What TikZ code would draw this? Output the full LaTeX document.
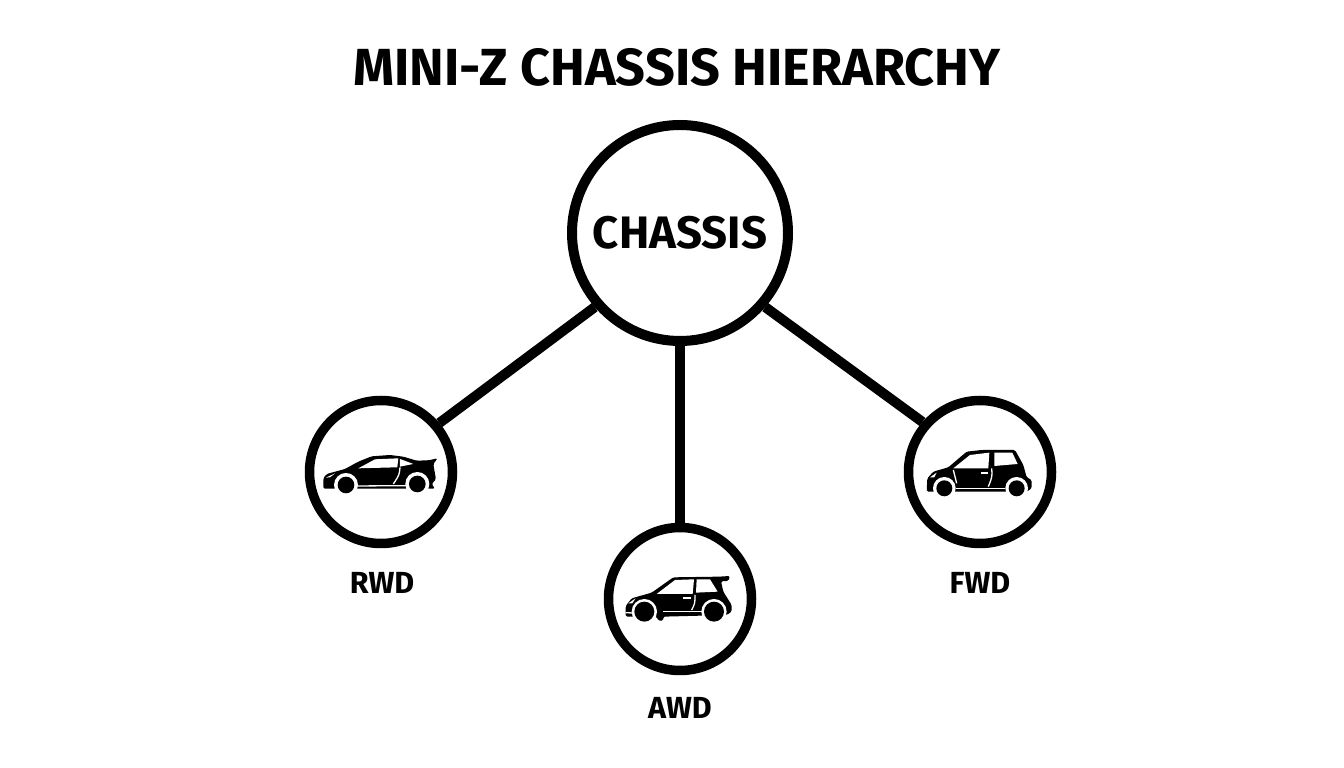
\documentclass[tikz,border=0pt]{standalone}
\usepackage{fontspec}
\setmainfont{Fira Sans}[BoldFont={Fira Sans Bold}]
\usetikzlibrary{arrows}
\tikzset{
  hub/.style={draw, circle, line width=10bp, minimum size=216bp, inner sep=0pt},
  drive/.style={draw, circle, line width=9.5bp, minimum size=143bp, inner sep=0pt},
  spoke/.style={line width=10bp},
  drivelabel/.style={font=\bfseries\fontsize{30.5bp}{34bp}\selectfont},
  carbody/.style={fill=black, rounded corners=1.5bp},
  carcut/.style={fill=white},
  carline/.style={draw=white, line width=1.3bp},
  carpic/.style={x=0.3333bp, y=-0.3333bp},
}
\begin{document}
\begin{tikzpicture}[join=bevel]
  \useasboundingbox (0bp, 0bp) rectangle (1344bp, 768bp);
  % Title
  \node (title) at (677bp, 701bp) {\bfseries\fontsize{52.2bp}{58bp}\selectfont MINI-Z CHASSIS HIERARCHY};

  % Circles
  \node (chassis) at (680bp, 535bp) [hub] {\bfseries\fontsize{45.5bp}{50bp}\selectfont CHASSIS};
  \node (rwd) at (381bp, 296bp) [drive] {};
  \node (awd) at (680bp, 169bp) [drive] {};
  \node (fwd) at (980bp, 296bp) [drive] {};

  % Labels
  \node (rwdlabel) at (382bp, 185bp) [drivelabel] {RWD};
  \node (awdlabel) at (680bp, 60bp) [drivelabel] {AWD};
  \node (fwdlabel) at (980bp, 185bp) [drivelabel] {FWD};

  % Edges
  \draw[spoke] (chassis.221) to (rwd.40);
  \draw[spoke] (chassis.south) to (awd.north);
  \draw[spoke] (chassis.319) to (fwd.139);

  % RWD car
  \begin{scope}[shift={(300bp, 378bp)}, carpic]
    \fill[carbody] (70,296) -- (70,265) -- (80,252) -- (135,237) -- (175,215) -- (215,199) -- (270,195) -- (310,200) -- (350,212) -- (385,211) -- (413,205) -- (400,222) -- (408,268) -- (395,282) -- (405,296) -- cycle;
    \fill[carcut] (175,235) -- (225,208) -- (295,205) -- (292,232) -- cycle;
    \fill[carcut] (300,207) -- (340,222) -- (300,230) -- cycle;
    \fill[carcut] (78,263) -- (105,250) -- (90,262) -- cycle;
    \draw[carline] (300,232) .. controls (298,255) .. (280,282);
    \draw[carline] (170,288) -- (320,287);
    \fill[carcut] (138,285) circle (36);
    \fill[carcut] (352,282) circle (36);
    \fill (138,285) circle (25);
    \fill (352,282) circle (25);
  \end{scope}

  % AWD car
  \begin{scope}[shift={(595bp, 248bp)}, carpic]
    \fill[carbody] (92,290) -- (92,258) -- (110,235) -- (170,218) -- (235,172) -- (372,170) -- (405,168) -- (400,183) -- (378,184) -- (385,215) -- (410,255) -- (410,275) -- (395,285) -- (205,290) -- (205,302) -- (190,302) -- (185,290) -- cycle;
    \fill[carcut] (185,222) -- (240,180) -- (297,178) -- (293,222) -- cycle;
    \fill[carcut] (305,178) -- (345,178) -- (368,215) -- (303,218) -- cycle;
    \fill[carcut] (100,250) -- (122,235) -- (112,250) -- cycle;
    \fill[carcut] (265,232) -- (288,232) -- (288,238) -- (265,238) -- cycle;
    \draw[carline] (300,225) .. controls (300,250) .. (290,270);
    \draw[carline] (205,275) -- (320,275);
    \draw[carline] (92,278) -- (112,279);
    \fill[carcut] (148,275) circle (38);
    \fill[carcut] (357,275) circle (38);
    \fill (148,275) circle (30);
    \fill (357,275) circle (30);
  \end{scope}

  % FWD car
  \begin{scope}[shift={(895bp, 378bp)}, carpic]
    \fill[carbody] (95,305) -- (97,265) -- (115,245) -- (160,232) -- (215,185) -- (260,180) -- (360,180) -- (385,225) -- (395,262) -- (410,270) -- (410,295) -- (395,305) -- cycle;
    \fill[carcut] (175,235) -- (225,195) -- (283,188) -- (280,235) -- cycle;
    \fill[carcut] (298,188) -- (352,188) -- (368,222) -- (298,228) -- cycle;
    \fill[carcut] (105,262) -- (125,248) -- (118,262) -- cycle;
    \fill[carcut] (258,246) -- (278,246) -- (278,251) -- (258,251) -- cycle;
    \draw[carline] (175,240) -- (185,280);
    \draw[carline] (290,235) .. controls (292,260) .. (280,290);
    \draw[carline] (183,295) -- (330,295);
    \fill[carcut] (148,295) circle (34);
    \fill[carcut] (365,295) circle (34);
    \fill (148,295) circle (24);
    \fill (365,295) circle (24);
  \end{scope}
\end{tikzpicture}
\end{document}
